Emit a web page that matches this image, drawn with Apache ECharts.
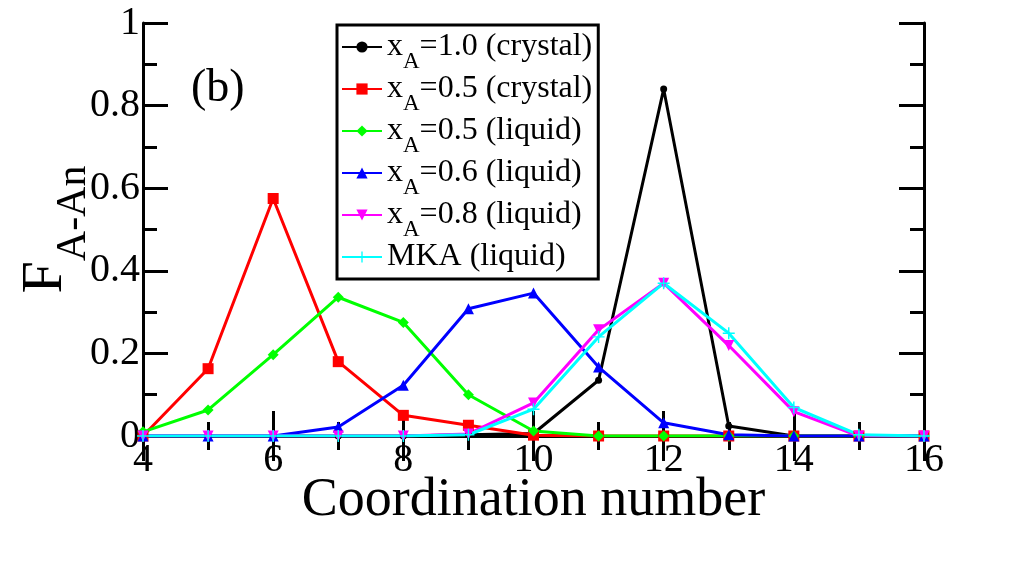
<!DOCTYPE html>
<html>
<head>
<meta charset="utf-8">
<script src="https://cdn.jsdelivr.net/npm/echarts@6/dist/echarts.min.js"></script>
<style>
  html, body { margin: 0; padding: 0; background: #fff; }
  #main { width: 1027px; height: 563px; }
</style>
</head>
<body>
<div id="main"></div>
<script>
// coordination numbers
var cn = [4, 5, 6, 7, 8, 9, 10, 11, 12, 13, 14, 15, 16];
// F_A-An values
var xa10Crystal = [0, 0, 0, 0, 0, 0.003, 0.006, 0.135, 0.84, 0.024, 0, 0, 0];
var xa05Crystal = [0, 0.163, 0.575, 0.18, 0.05, 0.026, 0.002, 0, 0, 0, 0, 0, 0];
var xa05Liquid = [0.01, 0.063, 0.197, 0.336, 0.275, 0.1, 0.012, 0, 0, 0, 0, 0, 0];
var xa06Liquid = [0, 0, 0, 0.022, 0.123, 0.308, 0.346, 0.167, 0.032, 0.003, 0, 0, 0];
var xa08Liquid = [0, 0, 0, 0, 0, 0.005, 0.08, 0.257, 0.37, 0.219, 0.059, 0, 0];
var mkaLiquid = [0, 0, 0, 0, 0, 0.003, 0.065, 0.24, 0.37, 0.249, 0.069, 0.003, 0];

// legend texts: main part, subscript, rest
var legendKeys = ['s1', 's2', 's3', 's4', 's5', 's6'];
var legendMain = ['x', 'x', 'x', 'x', 'x', 'MKA (liquid)'];
var legendSub = ['A', 'A', 'A', 'A', 'A', ''];
var legendRest = ['=1.0 (crystal)', '=0.5 (crystal)', '=0.5 (liquid)', '=0.6 (liquid)', '=0.8 (liquid)', ''];

var serif = 'Liberation Serif, Times New Roman, serif';

function pairs(ys) {
    return cn.map(function (x, i) { return [x, ys[i]]; });
}

function mkSeries(key, data, color, symbol, size, rotate) {
    return {
        name: key,
        type: 'line',
        data: pairs(data),
        symbol: symbol,
        symbolSize: size,
        symbolRotate: rotate || 0,
        lineStyle: { color: color, width: 3 },
        itemStyle: { color: color },
        animation: false
    };
}

var plus = 'path://M-1.2,-10H1.2V-1.2H10V1.2H1.2V10H-1.2V1.2H-10V-1.2H-1.2Z';

var myChart = echarts.init(document.getElementById('main'));
var axisLine = { lineStyle: { color: '#000', width: 3 } };
var axisTick = { inside: true, length: 25, lineStyle: { color: '#000', width: 3 } };
var minorTick = { show: true, splitNumber: 2, length: 14, lineStyle: { color: '#000', width: 3 } };

option = {
    backgroundColor: '#fff',
    grid: { left: 143, right: 103, top: 23, bottom: 127, outerBoundsMode: 'none', containLabel: false },
    xAxis: [
        {
            type: 'value', min: 4, max: 16, interval: 2,
            name: 'Coordination number',
            nameLocation: 'middle',
            nameGap: 38,
            nameMoveOverlap: false,
            nameTextStyle: { fontFamily: serif, fontSize: 54, color: '#000' },
            axisLine: axisLine, axisTick: axisTick, minorTick: minorTick,
            splitLine: { show: false },
            axisLabel: { fontFamily: serif, fontSize: 40, color: '#000', margin: 4 }
        },
        {
            type: 'value', min: 4, max: 16, interval: 2, position: 'top',
            axisLine: axisLine, axisTick: axisTick, minorTick: minorTick,
            splitLine: { show: false },
            axisLabel: { show: false }
        }
    ],
    yAxis: [
        {
            type: 'value', min: 0, max: 1, interval: 0.2,
            name: '{f|F}{s|A-An}',
            nameLocation: 'middle',
            nameGap: 48,
            nameMoveOverlap: false,
            nameTextStyle: {
                color: '#000',
                rich: {
                    f: { fontFamily: serif, fontSize: 58, color: '#000' },
                    s: { fontFamily: serif, fontSize: 42, color: '#000', padding: [56, 0, 0, 0] }
                }
            },
            axisLine: axisLine, axisTick: axisTick, minorTick: minorTick,
            splitLine: { show: false },
            axisLabel: {
                fontFamily: serif, fontSize: 40, color: '#000', margin: 3,
                formatter: function (v) { return v === 0 ? '0' : (v === 1 ? '1' : v.toFixed(1)); }
            }
        },
        {
            type: 'value', min: 0, max: 1, interval: 0.2, position: 'right',
            axisLine: axisLine, axisTick: axisTick, minorTick: minorTick,
            splitLine: { show: false },
            axisLabel: { show: false }
        }
    ],
    legend: {
        orient: 'vertical',
        left: 337, top: 25,
        padding: [6, 6, 6, 4],
        itemGap: 0,
        itemWidth: 40,
        itemHeight: 14,
        borderColor: '#000',
        borderWidth: 3,
        borderRadius: 0,
        backgroundColor: '#fff',
        data: legendKeys,
        formatter: function (name) {
            var i = legendKeys.indexOf(name);
            if (legendSub[i] === '') return '{m|' + legendMain[i] + '}';
            return '{m|' + legendMain[i] + '}{s|' + legendSub[i] + '}{m|' + legendRest[i] + '}';
        },
        textStyle: {
            color: '#000',
            rich: {
                m: { fontFamily: serif, fontSize: 32, color: '#000', height: 42 },
                s: { fontFamily: serif, fontSize: 23, color: '#000', padding: [29, 0, 0, 0] }
            }
        }
    },
    graphic: [
        { type: 'text', left: 191, top: 66, style: { text: '(b)', font: '46px ' + serif, fill: '#000' } }
    ],
    series: [
        mkSeries('s1', xa10Crystal, '#000000', 'circle', 7),
        mkSeries('s2', xa05Crystal, '#ff0000', 'rect', 11),
        mkSeries('s3', xa05Liquid, '#00ff00', 'diamond', 11),
        mkSeries('s4', xa06Liquid, '#0000ff', 'triangle', 11),
        mkSeries('s5', xa08Liquid, '#ff00ff', 'triangle', 11, 180),
        mkSeries('s6', mkaLiquid, '#00ffff', plus, 12)
    ]
};
myChart.setOption(option);
</script>
</body>
</html>
